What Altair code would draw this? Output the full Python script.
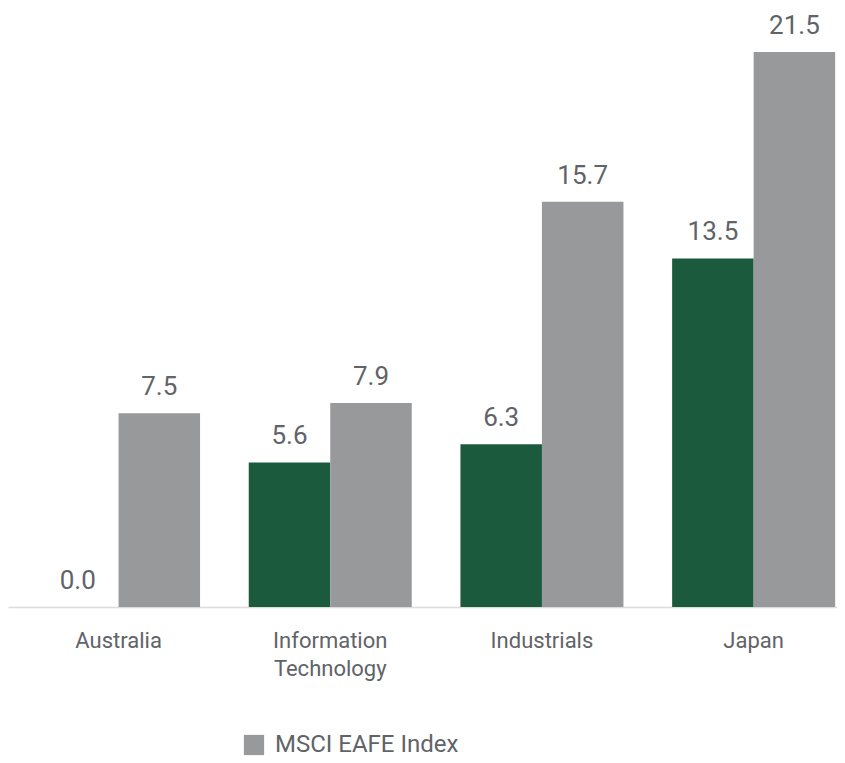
import altair as alt
import pandas as pd

categories = ["Australia", "Information Technology", "Industrials", "Japan"]
series = ["Portfolio", "MSCI EAFE Index"]
portfolio_values = [0.0, 5.6, 6.3, 13.5]
index_values = [7.5, 7.9, 15.7, 21.5]

rows = []
for c, p, i in zip(categories, portfolio_values, index_values):
    rows.append({"category": c, "series": series[0], "value": p})
    rows.append({"category": c, "series": series[1], "value": i})
df = pd.DataFrame(rows)

GREEN = "#1b5a3c"
GRAY = "#98999b"
TEXT = "#606368"
FONT = "Roboto"

x_enc = alt.X(
    "category:N",
    sort=categories,
    title=None,
    scale=alt.Scale(paddingInner=0.23, paddingOuter=0.073, align=0.94),
    axis=alt.Axis(
        labelAngle=0,
        labelFontSize=22,
        labelFont=FONT,
        labelColor=TEXT,
        labelPadding=23,
        labelLineHeight=28,
        labelBaseline="top",
        labelExpr="split(datum.label, ' ')",
        labelLimit=0,
        ticks=False,
        domainColor="#dcdcdc",
        domainWidth=1.5,
        grid=False,
    ),
)
xoff = alt.XOffset("series:N", sort=series, scale=alt.Scale(paddingInner=0, paddingOuter=0))
y_enc = alt.Y("value:Q", scale=alt.Scale(domain=[0, 23.2], nice=False), axis=None)

bars = alt.Chart(df).mark_bar().encode(
    x=x_enc,
    xOffset=xoff,
    y=y_enc,
    color=alt.Color(
        "series:N",
        sort=series,
        scale=alt.Scale(domain=series, range=[GREEN, GRAY]),
        legend=alt.Legend(
            title=None,
            values=["MSCI EAFE Index"],
            orient="none",
            legendX=234,
            legendY=725,
            symbolType="square",
            symbolSize=410,
            symbolStrokeWidth=0,
            labelFontSize=24,
            labelFont=FONT,
            labelColor=TEXT,
            labelOffset=9,
            labelLimit=0,
            padding=0,
        ),
    ),
)

labels = alt.Chart(df).mark_text(
    baseline="alphabetic",
    dy=-18,
    fontSize=26,
    font=FONT,
    color=TEXT,
).encode(
    x=alt.X("category:N", sort=categories),
    xOffset=alt.XOffset("series:N", sort=series),
    y=alt.Y("value:Q"),
    text=alt.Text("value:Q", format=".1f"),
)

chart = (
    alt.layer(bars, labels)
    .properties(width=829, height=599, padding=0)
    .configure_view(stroke=None)
)

chart.save("out.html", embed_options={"renderer": "svg", "actions": False})
